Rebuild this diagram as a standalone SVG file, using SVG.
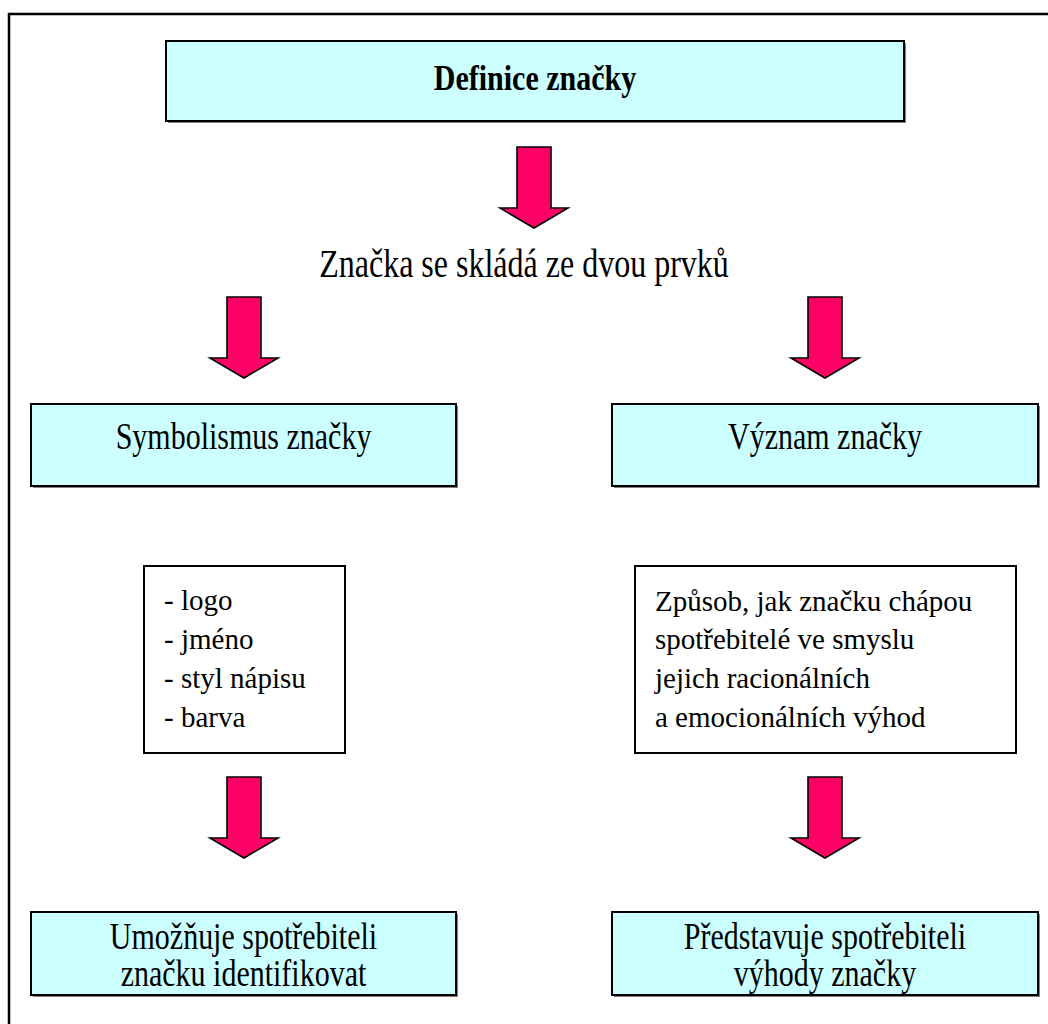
<svg xmlns="http://www.w3.org/2000/svg" width="1048" height="1024" viewBox="0 0 1048 1024" font-family="'Liberation Serif', 'Times New Roman', 'DejaVu Serif', serif">
<defs>
<style>
.frame{fill:#fff;stroke:#000;stroke-width:2.5}
.cy{fill:#CCFFFF;stroke:#000;stroke-width:2}
.sh{fill:#808080}
.wb{fill:#fff;stroke:#000;stroke-width:2}
.ar{fill:#FF0066;stroke:#000;stroke-width:1.6;stroke-linejoin:miter}
.t{font-size:30px;text-anchor:middle;font-family:'Liberation Serif', serif}
.b{font-weight:bold}
.l{font-size:29px;font-family:'Liberation Serif', serif}
</style>
<path id="arrow" d="M -17 0 H 17 V 61 H 34 L 0 81 L -34 61 H -17 Z"/>
</defs>
<rect class="frame" x="9" y="14" width="1060" height="1040"/>
<g id="connectors">
<use href="#arrow" class="ar" x="534" y="147"/>
<use href="#arrow" class="ar" x="244" y="297"/>
<use href="#arrow" class="ar" x="825" y="297"/>
<use href="#arrow" class="ar" x="244" y="777"/>
<use href="#arrow" class="ar" x="825" y="777"/>
</g>
<g id="definice">
<rect class="sh" x="168" y="43" width="738" height="80"/>
<rect class="cy" x="166" y="41" width="738" height="80"/>
<text class="t b" transform="translate(535,90) scale(1,1.22)">Definice značky</text>
</g>
<g id="slozeni">
<text class="t" transform="translate(524,277) scale(1,1.25)" style="font-size:32px">Značka se skládá ze dvou prvků</text>
</g>
<g id="symbolismus">
<rect class="sh" x="33" y="406" width="425" height="82"/>
<rect class="cy" x="31" y="404" width="425" height="82"/>
<text class="t" transform="translate(243.5,449) scale(1,1.27)">Symbolismus značky</text>
</g>
<g id="vyznam">
<rect class="sh" x="614" y="406" width="426" height="82"/>
<rect class="cy" x="612" y="404" width="426" height="82"/>
<text class="t" transform="translate(825,449) scale(1,1.27)">Význam značky</text>
</g>
<g id="prvky">
<rect class="wb" x="144" y="566" width="201" height="187"/>
<text class="l" x="164" y="610">- logo</text>
<text class="l" x="164" y="649">- jméno</text>
<text class="l" x="164" y="688">- styl nápisu</text>
<text class="l" x="164" y="727">- barva</text>
</g>
<g id="zpusob">
<rect class="wb" x="635" y="566" width="381" height="187"/>
<text class="l" x="655" y="611">Způsob, jak značku chápou</text>
<text class="l" x="655" y="649">spotřebitelé ve smyslu</text>
<text class="l" x="655" y="688">jejich racionálních</text>
<text class="l" x="655" y="727">a emocionálních výhod</text>
</g>
<g id="umoznuje">
<rect class="sh" x="33" y="914" width="425" height="83"/>
<rect class="cy" x="31" y="912" width="425" height="83"/>
<text class="t" transform="translate(243.5,949) scale(1,1.25)">Umožňuje spotřebiteli</text>
<text class="t" transform="translate(243.5,986) scale(1,1.25)">značku identifikovat</text>
</g>
<g id="predstavuje">
<rect class="sh" x="614" y="914" width="426" height="83"/>
<rect class="cy" x="612" y="912" width="426" height="83"/>
<text class="t" transform="translate(825,949) scale(1,1.25)">Představuje spotřebiteli</text>
<text class="t" transform="translate(825,986) scale(1,1.25)">výhody značky</text>
</g>
</svg>
